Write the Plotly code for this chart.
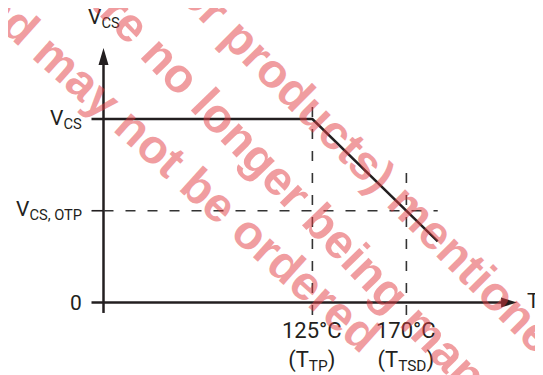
import plotly.graph_objects as go

# derating curve: normalised V_CS against junction temperature (°C)
tj = [25, 125, 185]
vcs = [1.0, 1.0, 0.333]

t_tp = 125
t_tsd = 170
v_otp = 0.5

y_vals = [1.0, v_otp, 0.0]
y_text = ["V<sub>CS</sub>", "V<sub>CS, OTP</sub>", "0"]
x_vals = [t_tp, t_tsd]
x_text = ["125°C<br>(T<sub>TP</sub>)", "170°C<br>(T<sub>TSD</sub>)"]

watermark = [
    "or products) mentioned",
    "are no longer being manufactured",
    "and may not be ordered",
]

INK = "#231f20"
LABEL_FONT = dict(family="Roboto, sans-serif", size=21, color=INK)
OFF = 8  # page body margin

fig = go.Figure()
fig.add_trace(go.Scatter(x=tj, y=vcs, mode="lines", line=dict(color=INK, width=2.5),
                         hoverinfo="skip", showlegend=False))

# axes with arrows
x_tip, y_tip = 223, 1.387
fig.add_shape(type="line", x0=25, x1=x_tip - 6, y0=0, y1=0, line=dict(color=INK, width=2.5))
fig.add_shape(type="line", x0=25, x1=25, y0=-0.057, y1=y_tip - 0.05, line=dict(color=INK, width=2.5))
fig.add_shape(type="path", xsizemode="pixel", ysizemode="pixel", xanchor=x_tip, yanchor=0,
              path="M0,0 L-16,5 L-16,-5 Z", fillcolor=INK, line=dict(width=0))
fig.add_shape(type="path", xsizemode="pixel", ysizemode="pixel", xanchor=25, yanchor=y_tip,
              path="M0,0 L-5,-17 L5,-17 Z", fillcolor=INK, line=dict(width=0))

# tick stubs left of the y axis
for v in [1.0, 0.0]:
    fig.add_shape(type="line", xsizemode="pixel", xanchor=25, x0=-12, x1=0, y0=v, y1=v,
                  line=dict(color=INK, width=2.5))

dash = dict(color="#333333", width=1.6, dash="10px,12px")
fig.add_shape(type="line", xsizemode="pixel", xanchor=25, x0=-12, x1=0, y0=v_otp, y1=v_otp,
              line=dict(color=INK, width=1.6))
fig.add_shape(type="line", x0=25, x1=tj[-1], y0=v_otp, y1=v_otp, line=dash)
fig.add_shape(type="line", x0=t_tp, x1=t_tp, y0=-0.068, y1=1.114, line=dash)
fig.add_shape(type="line", x0=t_tsd, x1=t_tsd, y0=-0.068, y1=0.722, line=dash)

for v, t in zip(y_vals, y_text):
    fig.add_annotation(x=25, y=v, text=t, showarrow=False, xanchor="right", xshift=-20,
                       font=LABEL_FONT)
for x, t in zip(x_vals, x_text):
    fig.add_annotation(x=x, y=0, text=t, showarrow=False, yanchor="top", yshift=-13,
                       font=dict(LABEL_FONT, size=22))
fig.add_annotation(x=25, y=1.55, text="V<sub>CS</sub>", showarrow=False, font=LABEL_FONT)
fig.add_annotation(x=x_tip, y=0, text="T<sub>J</sub>", showarrow=False, xanchor="left",
                   xshift=8, font=LABEL_FONT)

# diagonal watermark (centres in window pixels, angle in degrees)
wm_pos = [(378, 174, 45), (361, 262, 46), (170, 161, 42)]
for txt, (px, py, ang) in zip(watermark, wm_pos):
    fig.add_annotation(xref="paper", yref="paper", x=(px - OFF) / 543, y=1 - (py - OFF) / 375,
                       xanchor="center", yanchor="middle", text=txt,
                       showarrow=False, textangle=ang,
                       font=dict(family="Liberation Sans", size=48, weight="bold",
                                 color="rgba(225,60,65,0.5)"))

fig.update_xaxes(range=[-20.72, 239.23], visible=False, fixedrange=True)
fig.update_yaxes(range=[-0.4387, 1.6049], visible=False, fixedrange=True)
fig.update_layout(width=543, height=375, margin=dict(l=0, r=0, t=0, b=0),
                  paper_bgcolor="white", plot_bgcolor="white", showlegend=False)
fig.write_html("out.html")
